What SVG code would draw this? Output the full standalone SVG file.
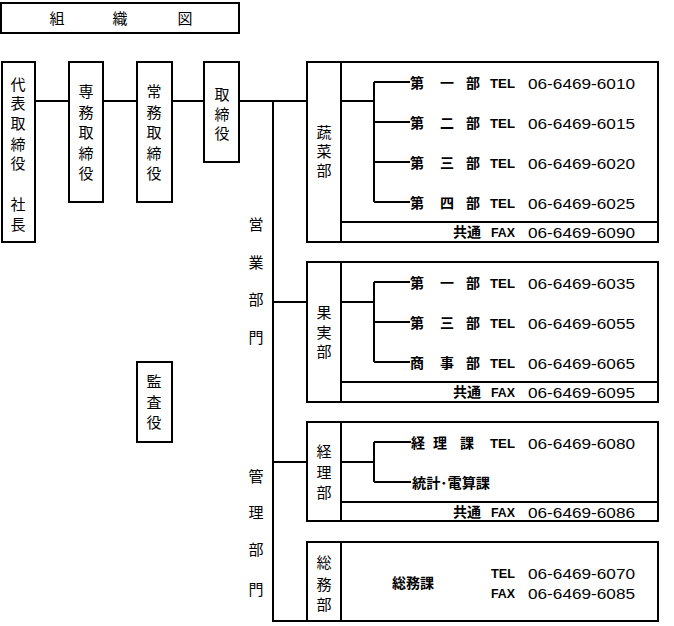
<svg xmlns="http://www.w3.org/2000/svg" width="674" height="626" viewBox="0 0 674 626">
<style>
.box{fill:none;stroke:#000;stroke-width:2}
.ln{fill:none;stroke:#000;stroke-width:2}
.v{font-family:"Noto Sans CJK JP","Noto Sans CJK SC",sans-serif;font-size:15px;text-anchor:middle;fill:#000}
.s{font-family:"Noto Sans CJK JP","Noto Sans CJK SC",sans-serif;font-size:14px;font-weight:bold;fill:#000}
.n{font-family:"Liberation Sans",Arial,sans-serif;font-size:15px;fill:#000}
.t{font-family:"Liberation Sans",Arial,sans-serif;font-size:12px;font-weight:bold;fill:#000}
</style>
<rect width="674" height="626" fill="#fff"/>
<g id="title">
<rect class="box" x="1" y="3" width="238" height="30"/>
<text class="v" x="57" y="24">組</text>
<text class="v" x="120" y="24">織</text>
<text class="v" x="185" y="24">図</text>
</g>
<g id="president">
<rect class="box" x="2" y="62" width="33" height="180"/>
<text class="v" x="18" y="90">代</text>
<text class="v" x="18" y="109">表</text>
<text class="v" x="18" y="129">取</text>
<text class="v" x="18" y="150">締</text>
<text class="v" x="18" y="169">役</text>
<text class="v" x="18" y="210">社</text>
<text class="v" x="18" y="230">長</text>
</g>
<g id="senmu">
<rect class="box" x="69" y="62" width="34" height="140"/>
<text class="v" x="86" y="97">専</text>
<text class="v" x="86" y="118">務</text>
<text class="v" x="86" y="138">取</text>
<text class="v" x="86" y="159">締</text>
<text class="v" x="86" y="179">役</text>
</g>
<g id="jomu">
<rect class="box" x="137" y="62" width="35" height="140"/>
<text class="v" x="154" y="97">常</text>
<text class="v" x="154" y="118">務</text>
<text class="v" x="154" y="138">取</text>
<text class="v" x="154" y="159">締</text>
<text class="v" x="154" y="179">役</text>
</g>
<g id="torishimariyaku">
<rect class="box" x="204" y="62" width="35" height="100"/>
<text class="v" x="222" y="100">取</text>
<text class="v" x="222" y="120">締</text>
<text class="v" x="222" y="139">役</text>
</g>
<g id="kansayaku">
<rect class="box" x="137" y="362" width="35" height="80"/>
<text class="v" x="154" y="387">監</text>
<text class="v" x="154" y="408">査</text>
<text class="v" x="154" y="428">役</text>
</g>
<g id="eigyo">
<text class="v" x="256" y="230">営</text>
<text class="v" x="256" y="268">業</text>
<text class="v" x="256" y="305">部</text>
<text class="v" x="256" y="343">門</text>
</g>
<g id="kanri">
<text class="v" x="256" y="482">管</text>
<text class="v" x="256" y="518">理</text>
<text class="v" x="256" y="555">部</text>
<text class="v" x="256" y="595">門</text>
</g>
<g id="yasai">
<rect class="box" x="307" y="62" width="351" height="180"/>
<path class="ln" d="M341 62V242M341 222H658"/>
<text class="v" x="324" y="138">蔬</text>
<text class="v" x="324" y="157">菜</text>
<text class="v" x="324" y="176">部</text>
<text class="s" x="410 440 466" y="88">第一部</text>
<text class="t" x="490" y="88" textLength="25" lengthAdjust="spacingAndGlyphs">TEL</text>
<text class="n" x="528" y="89" textLength="107" lengthAdjust="spacingAndGlyphs">06-6469-6010</text>
<text class="s" x="410 440 466" y="128">第二部</text>
<text class="t" x="490" y="128" textLength="25" lengthAdjust="spacingAndGlyphs">TEL</text>
<text class="n" x="528" y="129" textLength="107" lengthAdjust="spacingAndGlyphs">06-6469-6015</text>
<text class="s" x="410 440 466" y="168">第三部</text>
<text class="t" x="490" y="168" textLength="25" lengthAdjust="spacingAndGlyphs">TEL</text>
<text class="n" x="528" y="169" textLength="107" lengthAdjust="spacingAndGlyphs">06-6469-6020</text>
<text class="s" x="410 440 466" y="208">第四部</text>
<text class="t" x="490" y="208" textLength="25" lengthAdjust="spacingAndGlyphs">TEL</text>
<text class="n" x="528" y="209" textLength="107" lengthAdjust="spacingAndGlyphs">06-6469-6025</text>
<text class="s" x="453" y="237">共通</text>
<text class="t" x="491" y="237" textLength="24" lengthAdjust="spacingAndGlyphs">FAX</text>
<text class="n" x="528" y="238" textLength="107" lengthAdjust="spacingAndGlyphs">06-6469-6090</text>
</g>
<g id="kajitsu">
<rect class="box" x="307" y="262" width="351" height="140"/>
<path class="ln" d="M341 262V402M341 382H658"/>
<text class="v" x="324" y="318">果</text>
<text class="v" x="324" y="338">実</text>
<text class="v" x="324" y="357">部</text>
<text class="s" x="410 440 466" y="288">第一部</text>
<text class="t" x="490" y="288" textLength="25" lengthAdjust="spacingAndGlyphs">TEL</text>
<text class="n" x="528" y="289" textLength="107" lengthAdjust="spacingAndGlyphs">06-6469-6035</text>
<text class="s" x="410 440 466" y="328">第三部</text>
<text class="t" x="490" y="328" textLength="25" lengthAdjust="spacingAndGlyphs">TEL</text>
<text class="n" x="528" y="329" textLength="107" lengthAdjust="spacingAndGlyphs">06-6469-6055</text>
<text class="s" x="410 440 466" y="368">商事部</text>
<text class="t" x="490" y="368" textLength="25" lengthAdjust="spacingAndGlyphs">TEL</text>
<text class="n" x="528" y="369" textLength="107" lengthAdjust="spacingAndGlyphs">06-6469-6065</text>
<text class="s" x="453" y="397">共通</text>
<text class="t" x="491" y="397" textLength="24" lengthAdjust="spacingAndGlyphs">FAX</text>
<text class="n" x="528" y="398" textLength="107" lengthAdjust="spacingAndGlyphs">06-6469-6095</text>
</g>
<g id="keiri">
<rect class="box" x="307" y="422" width="351" height="99"/>
<path class="ln" d="M341 422V521M341 502H658"/>
<text class="v" x="324" y="457">経</text>
<text class="v" x="324" y="478">理</text>
<text class="v" x="324" y="498">部</text>
<text class="s" x="411 433 460" y="448">経理課</text>
<text class="t" x="490" y="448" textLength="25" lengthAdjust="spacingAndGlyphs">TEL</text>
<text class="n" x="528" y="449" textLength="107" lengthAdjust="spacingAndGlyphs">06-6469-6080</text>
<text class="s" x="412" y="488" textLength="78" lengthAdjust="spacingAndGlyphs">統計･電算課</text>
<text class="s" x="453" y="517">共通</text>
<text class="t" x="491" y="517" textLength="24" lengthAdjust="spacingAndGlyphs">FAX</text>
<text class="n" x="528" y="518" textLength="107" lengthAdjust="spacingAndGlyphs">06-6469-6086</text>
</g>
<g id="somu">
<rect class="box" x="307" y="542" width="351" height="79"/>
<path class="ln" d="M341 542V621"/>
<text class="v" x="324" y="568">総</text>
<text class="v" x="324" y="590">務</text>
<text class="v" x="324" y="610">部</text>
<text class="s" x="392" y="588">総務課</text>
<text class="t" x="491" y="578" textLength="24" lengthAdjust="spacingAndGlyphs">TEL</text>
<text class="n" x="528" y="579" textLength="107" lengthAdjust="spacingAndGlyphs">06-6469-6070</text>
<text class="t" x="491" y="598" textLength="24" lengthAdjust="spacingAndGlyphs">FAX</text>
<text class="n" x="528" y="599" textLength="107" lengthAdjust="spacingAndGlyphs">06-6469-6085</text>
</g>
<g id="connectors">
<path class="ln" d="M35 101H69M103 101H137M172 101H204M239 101H307"/>
<path class="ln" d="M273 101V621H307"/>
<path class="ln" d="M273 302H307M273 462H307"/>
<path class="ln" d="M341 101H374M374 82V202M374 82H410M374 122H410M374 162H410M374 202H410"/>
<path class="ln" d="M341 302H374M374 282V362M374 282H410M374 322H410M374 362H410"/>
<path class="ln" d="M341 462H374M374 442V482M374 442H411M374 482H411"/>
</g>
</svg>
